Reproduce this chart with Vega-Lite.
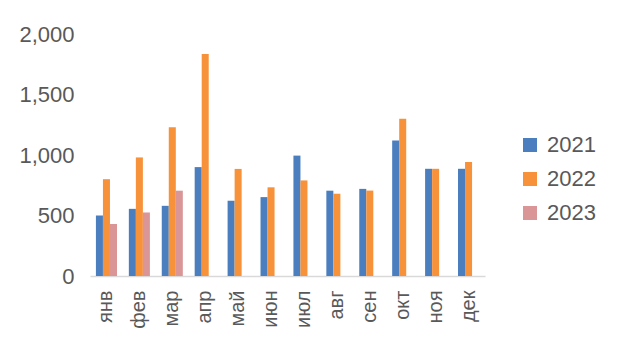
{
  "$schema": "https://vega.github.io/schema/vega-lite/v6.json",
  "width": 395,
  "height": 242,
  "autosize": {"type": "none"},
  "padding": {"left": 90, "top": 34, "right": 135, "bottom": 81},
  "background": "white",
  "config": {"view": {"stroke": null}, "font": "Liberation Sans"},
  "data": {
    "values": [
      {"month": "янв", "year": "2021", "value": 500},
      {"month": "янв", "year": "2022", "value": 800},
      {"month": "янв", "year": "2023", "value": 430},
      {"month": "фев", "year": "2021", "value": 555},
      {"month": "фев", "year": "2022", "value": 980},
      {"month": "фев", "year": "2023", "value": 525},
      {"month": "мар", "year": "2021", "value": 580},
      {"month": "мар", "year": "2022", "value": 1230},
      {"month": "мар", "year": "2023", "value": 705},
      {"month": "апр", "year": "2021", "value": 900},
      {"month": "апр", "year": "2022", "value": 1835},
      {"month": "май", "year": "2021", "value": 622},
      {"month": "май", "year": "2022", "value": 885},
      {"month": "июн", "year": "2021", "value": 652},
      {"month": "июн", "year": "2022", "value": 733},
      {"month": "июл", "year": "2021", "value": 995},
      {"month": "июл", "year": "2022", "value": 790},
      {"month": "авг", "year": "2021", "value": 705},
      {"month": "авг", "year": "2022", "value": 680},
      {"month": "сен", "year": "2021", "value": 720},
      {"month": "сен", "year": "2022", "value": 706},
      {"month": "окт", "year": "2021", "value": 1120},
      {"month": "окт", "year": "2022", "value": 1300},
      {"month": "ноя", "year": "2021", "value": 886},
      {"month": "ноя", "year": "2022", "value": 886},
      {"month": "дек", "year": "2021", "value": 886},
      {"month": "дек", "year": "2022", "value": 942}
    ]
  },
  "mark": {"type": "bar"},
  "encoding": {
    "x": {
      "field": "month",
      "type": "nominal",
      "sort": ["янв","фев","мар","апр","май","июн","июл","авг","сен","окт","ноя","дек"],
      "scale": {"paddingInner": 0.36, "paddingOuter": 0.18},
      "axis": {
        "title": null,
        "labelAngle": -90,
        "labelFontSize": 20,
        "labelColor": "#595959",
        "labelPadding": 14,
        "ticks": false,
        "domainColor": "#d9d9d9",
        "domainWidth": 1.5
      }
    },
    "xOffset": {
      "field": "year",
      "type": "nominal",
      "scale": {"domain": ["2021", "2022", "2023"], "paddingInner": 0, "paddingOuter": 0}
    },
    "y": {
      "field": "value",
      "type": "quantitative",
      "scale": {"domain": [0, 2000]},
      "axis": {
        "title": null,
        "values": [0, 500, 1000, 1500, 2000],
        "format": ",d",
        "grid": false,
        "domain": false,
        "ticks": false,
        "labelFontSize": 22,
        "labelColor": "#595959",
        "labelPadding": 16
      }
    },
    "color": {
      "field": "year",
      "type": "nominal",
      "scale": {"domain": ["2021", "2022", "2023"], "range": ["#4A7EBF", "#F7923A", "#DA9696"]},
      "legend": {
        "title": null,
        "orient": "none",
        "legendX": 429,
        "legendY": 100,
        "symbolType": "square",
        "symbolSize": 196,
        "symbolStrokeWidth": 0,
        "labelFontSize": 22,
        "labelColor": "#595959",
        "rowPadding": 12,
        "labelOffset": 6
      }
    }
  }
}
